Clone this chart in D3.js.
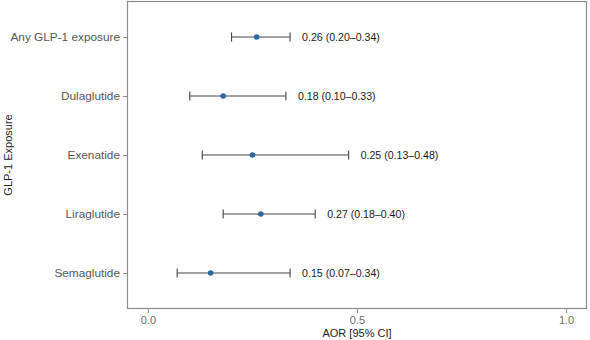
<!DOCTYPE html>
<html>
<head>
<meta charset="utf-8">
<script src="https://cdn.jsdelivr.net/npm/d3@7"></script>
<style>
  body { margin: 0; background: #fff; }
  svg { font-family: "Liberation Sans", Arial, sans-serif; }
</style>
</head>
<body>
<div id="chart"></div>
<script>
var exposures = ["Any GLP-1 exposure", "Dulaglutide", "Exenatide", "Liraglutide", "Semaglutide"];
var aor = [0.26, 0.18, 0.25, 0.27, 0.15];
var lower = [0.20, 0.10, 0.13, 0.18, 0.07];
var upper = [0.34, 0.33, 0.48, 0.40, 0.34];
var xTicks = [0, 0.5, 1];

var data = exposures.map(function (d, i) {
    return { name: d, aor: aor[i], lo: lower[i], hi: upper[i] };
});

var width = 590, height = 340;
var margin = { top: 1, right: 3, bottom: 31, left: 127 };

var svg = d3.select("#chart")
    .append("svg")
    .attr("width", width)
    .attr("height", height);

var x = d3.scaleLinear()
    .domain([-0.05, 1.05])
    .range([margin.left, width - margin.right]);

var y = d3.scalePoint()
    .domain(exposures)
    .range([margin.top + 36, height - margin.bottom - 36]);

// panel border
svg.append("rect")
    .attr("x", margin.left + 0.5)
    .attr("y", margin.top + 0.5)
    .attr("width", width - margin.left - margin.right - 1)
    .attr("height", height - margin.top - margin.bottom - 1)
    .attr("fill", "none")
    .attr("stroke", "#8c8c8c")
    .attr("stroke-width", 1.2);

// x axis
var xAxis = svg.append("g")
    .attr("transform", "translate(0," + (height - margin.bottom) + ")")
    .call(d3.axisBottom(x).tickValues(xTicks).tickFormat(d3.format(".1f")).tickSize(4).tickPadding(3));
xAxis.select(".domain").remove();
xAxis.selectAll("line").attr("stroke", "#8c8c8c");
xAxis.selectAll("text").attr("fill", "#6b6b6b").style("font-size", "11px");

// y axis
var yAxis = svg.append("g")
    .attr("transform", "translate(" + margin.left + ",0)")
    .call(d3.axisLeft(y).tickSize(4).tickPadding(3));
yAxis.select(".domain").remove();
yAxis.selectAll("line").attr("stroke", "#8c8c8c");
yAxis.selectAll("text").attr("fill", "#555").style("font-size", "11.8px");

// axis titles
svg.append("text")
    .attr("x", (margin.left + width - margin.right) / 2)
    .attr("y", height - 3)
    .attr("text-anchor", "middle")
    .style("font-size", "11px")
    .attr("fill", "#222")
    .text("AOR [95% CI]");

svg.append("text")
    .attr("transform", "translate(12," + ((margin.top + height - margin.bottom) / 2) + ") rotate(-90)")
    .attr("text-anchor", "middle")
    .style("font-size", "11px")
    .attr("fill", "#222")
    .text("GLP-1 Exposure");

// error bars
var rows = svg.selectAll(".row")
    .data(data)
    .enter()
    .append("g")
    .attr("class", "row");

rows.append("line")
    .attr("x1", function (d) { return x(d.lo); })
    .attr("x2", function (d) { return x(d.hi); })
    .attr("y1", function (d) { return y(d.name); })
    .attr("y2", function (d) { return y(d.name); })
    .attr("stroke", "#444")
    .attr("stroke-width", 1.1);

rows.selectAll(".cap")
    .data(function (d) { return [[d.lo, d.name], [d.hi, d.name]]; })
    .enter()
    .append("line")
    .attr("x1", function (c) { return x(c[0]); })
    .attr("x2", function (c) { return x(c[0]); })
    .attr("y1", function (c) { return y(c[1]) - 4.5; })
    .attr("y2", function (c) { return y(c[1]) + 4.5; })
    .attr("stroke", "#444")
    .attr("stroke-width", 1.1);

rows.append("circle")
    .attr("cx", function (d) { return x(d.aor); })
    .attr("cy", function (d) { return y(d.name); })
    .attr("r", 2.8)
    .attr("fill", "#2c67a0");

rows.append("text")
    .attr("x", function (d) { return x(d.hi) + 12; })
    .attr("y", function (d) { return y(d.name); })
    .attr("dy", "0.35em")
    .style("font-size", "10.6px")
    .attr("fill", "#1a1a1a")
    .text(function (d) { return d3.format(".2f")(d.aor) + " (" + d3.format(".2f")(d.lo) + "\u2013" + d3.format(".2f")(d.hi) + ")"; });
</script>
</body>
</html>
